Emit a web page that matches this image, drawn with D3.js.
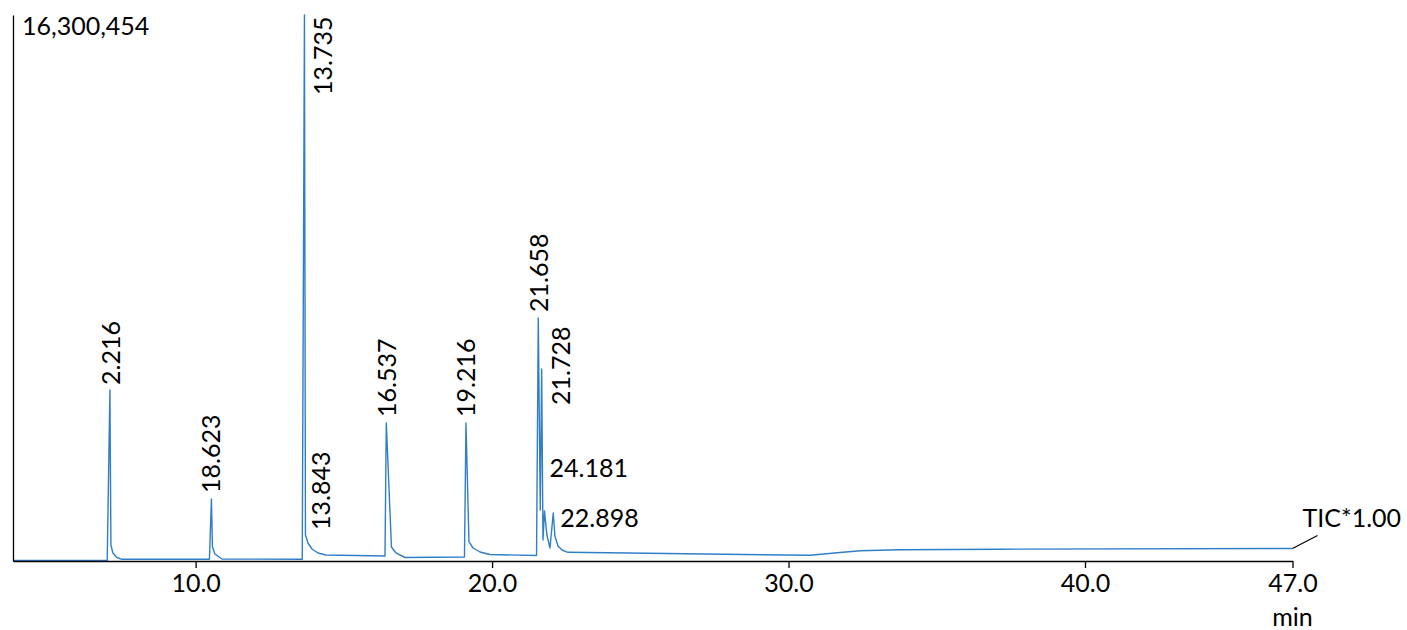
<!DOCTYPE html>
<html><head><meta charset="utf-8">
<script src="https://cdn.jsdelivr.net/npm/d3@7"></script>
<style>html,body{margin:0;padding:0;background:#fff;overflow:hidden;}</style>
</head><body>
<svg id="chart" width="1407" height="630"></svg>
<script>
// ---- data (retention time in min, intensity in counts) ----
const times = [3.84, 7.018, 7.109, 7.143, 7.21, 7.345, 7.513, 10.466, 10.533, 10.567, 10.651, 10.888,
  13.597, 13.671, 13.705, 13.789, 13.924, 14.127, 14.397, 16.388, 16.432, 16.606, 16.758, 17.062,
  19.069, 19.12, 19.22, 19.358, 19.59, 19.93, 21.5, 21.558, 21.626, 21.673, 21.717, 21.768, 21.85,
  21.953, 22.064, 22.12, 22.224, 22.357, 22.56, 30.73, 31.74, 32.41, 33.76, 37.13, 47.0];
const intensities = [15000, 15000, 5105000, 477700, 239000, 104500, 50800, 50800, 1851000, 418000, 209000, 59700,
  50800, 16300454, 776000, 537000, 358000, 239000, 179000, 149000, 4120000, 418000, 239000, 104500,
  119400, 4120000, 576000, 388000, 269000, 194000, 164000, 7254500, 1522000, 5732000, 627000, 1492700, 776000,
  388000, 1433000, 746000, 448000, 328000, 260000, 170000, 254000, 304500, 334000, 352000, 373000];
const maxIntensity = 16300454;
const xStart = 3.84, xEnd = 47.0;
const tickValues = [10, 20, 30, 40, 47];
const tickLabels = ["10.0", "20.0", "30.0", "40.0", "47.0"];
const peakLabels = ["2.216", "18.623", "13.735", "13.843", "16.537", "19.216", "21.658", "21.728", "24.181", "22.898"];
const peakTimes = [7.109, 10.533, 13.671, 13.705, 16.432, 19.12, 21.558, 21.673, 21.768, 22.064];
const peakHeights = [5105000, 1851000, 16300454, 776000, 4120000, 4120000, 7254500, 5732000, 1492700, 1433000];
const traceName = "TIC*1.00";
const xUnit = "min";

// ---- layout ----
const FONT = "Lato, 'Open Sans', sans-serif";
const FS = 25;
const plotLeft = 13, plotRight = 1292.5, plotTop = 15, plotBottom = 561;
// label offsets (px) from anchor and rotation
const labelLayout = [
  {dx: 0, dy: -5, rot: true},
  {dx: -1, dy: -6, rot: true},
  {dx: 18, dy: 80, rot: true},
  {dx: 15, dy: -5, rot: true},
  {dx: 0, dy: -6, rot: true},
  {dx: -1, dy: -6, rot: true},
  {dx: 0, dy: -6, rot: true},
  {dx: 18, dy: 36, rot: true},
  {dx: 5, dy: -44, rot: false},
  {dx: 7, dy: 4, rot: false}
];

const svg = d3.select("#chart");
const x = d3.scaleLinear().domain([xStart, xEnd]).range([plotLeft, plotRight]);
const y = d3.scaleLinear().domain([0, maxIntensity]).range([plotBottom, plotTop]);

// trace
const pts = times.map((t, i) => [t, intensities[i]]);
svg.append("path")
  .datum(pts)
  .attr("fill", "none")
  .attr("stroke", "#2f7fc8")
  .attr("stroke-width", 1.4)
  .attr("stroke-linejoin", "round")
  .attr("d", d3.line().x(d => x(d[0])).y(d => y(d[1])));

// x axis
const xAxis = d3.axisBottom(x)
  .tickValues(tickValues)
  .tickFormat((d, i) => tickLabels[i])
  .tickSize(7)
  .tickSizeOuter(0)
  .tickPadding(6);
const gx = svg.append("g").attr("transform", `translate(0,${plotBottom})`).call(xAxis);
gx.select(".domain").attr("stroke", "#000").attr("stroke-width", 1.3);
gx.selectAll(".tick line").attr("stroke", "#000").attr("stroke-width", 1.3);
gx.selectAll(".tick text").attr("fill", "#000").style("font-family", FONT).style("font-size", FS + "px");

// y axis (line only)
const yAxis = d3.axisLeft(y).tickValues([]).tickSizeOuter(0);
const gy = svg.append("g").attr("transform", `translate(${plotLeft},0)`).call(yAxis);
gy.select(".domain").attr("stroke", "#000").attr("stroke-width", 1.3);

// max label
svg.append("text")
  .attr("x", plotLeft + 9).attr("y", y(maxIntensity) + 10)
  .attr("dominant-baseline", "central")
  .style("font-family", FONT).style("font-size", FS + "px").attr("fill", "#000")
  .text(d3.format(",")(maxIntensity));

// unit
svg.append("text")
  .attr("x", x(xEnd)).attr("y", 616)
  .attr("text-anchor", "middle").attr("dominant-baseline", "central")
  .style("font-family", FONT).style("font-size", FS + "px").attr("fill", "#000")
  .text(xUnit);

// trace name with leader line
const ex = x(times[times.length - 1]), ey = y(intensities[intensities.length - 1]);
svg.append("line")
  .attr("x1", ex).attr("y1", ey).attr("x2", ex + 25).attr("y2", ey - 13)
  .attr("stroke", "#000").attr("stroke-width", 1.2);
svg.append("text")
  .attr("x", ex + 10).attr("y", ey - 32)
  .attr("dominant-baseline", "central")
  .style("font-family", FONT).style("font-size", FS + "px").attr("fill", "#000")
  .text(traceName);

// peak labels
peakLabels.forEach((lab, i) => {
  const L = labelLayout[i];
  const px = x(peakTimes[i]) + L.dx, py = y(peakHeights[i]) + L.dy;
  const t = svg.append("text")
    .style("font-family", FONT).style("font-size", FS + "px").attr("fill", "#000")
    .attr("dominant-baseline", "central")
    .text(lab);
  if (L.rot) {
    t.attr("transform", `translate(${px},${py}) rotate(-90)`).attr("text-anchor", "start");
  } else {
    t.attr("x", px).attr("y", py).attr("text-anchor", "start");
  }
});
</script>
</body></html>
